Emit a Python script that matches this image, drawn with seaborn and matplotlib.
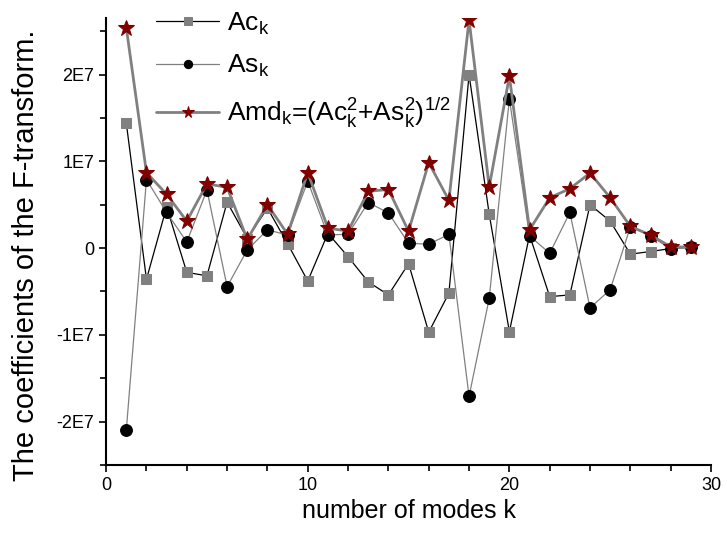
import matplotlib
matplotlib.use('Agg')
import matplotlib.pyplot as plt
import matplotlib.ticker as mticker
import seaborn as sns

# Data (values in units of 1E7)
SCALE = 1e7
k = list(range(1, 30))
ac = [1.44, -0.36, 0.475, -0.28, -0.32, 0.53, 0.11, 0.46, 0.05, -0.38,
      0.17, -0.10, -0.39, -0.54, -0.18, -0.97, -0.52, 2.00, 0.39, -0.965,
      0.15, -0.56, -0.54, 0.50, 0.31, -0.07, -0.04, -0.005, 0.01]
as_ = [-2.10, 0.79, 0.41, 0.07, 0.67, -0.445, -0.02, 0.21, 0.15, 0.77,
       0.15, 0.16, 0.525, 0.405, 0.055, 0.045, 0.157, -1.71, -0.58, 1.72,
       0.14, -0.06, 0.41, -0.69, -0.48, 0.245, 0.14, -0.01, 0.01]
amd = [2.54, 0.87, 0.62, 0.31, 0.74, 0.70, 0.10, 0.50, 0.16, 0.87,
       0.23, 0.195, 0.655, 0.675, 0.195, 0.985, 0.55, 2.63, 0.705, 1.98,
       0.21, 0.58, 0.685, 0.865, 0.58, 0.25, 0.15, 0.015, 0.01]

ac = [v * SCALE for v in ac]
as_ = [v * SCALE for v in as_]
amd = [v * SCALE for v in amd]

sns.set_style('ticks')
plt.rcParams['font.family'] = ['Liberation Sans', 'DejaVu Sans']
plt.rcParams['mathtext.default'] = 'regular'
for key in ['text.color', 'axes.labelcolor', 'xtick.color', 'ytick.color', 'axes.edgecolor']:
    plt.rcParams[key] = 'black'

fig = plt.figure(figsize=(7.27, 5.35), dpi=100)
ax = fig.add_axes([0.146, 0.131, 0.832, 0.835])

grey = '#808080'
sns.lineplot(x=k, y=ac, ax=ax, color='black', linewidth=0.9, marker='s',
             markersize=7.5, markerfacecolor=grey, markeredgecolor=grey,
             label=r'Ac$_k$')
sns.lineplot(x=k, y=as_, ax=ax, color=grey, linewidth=0.9, marker='o',
             markersize=8.5, markerfacecolor='black', markeredgecolor='black',
             label=r'As$_k$')
sns.lineplot(x=k, y=amd, ax=ax, color=grey, linewidth=2, marker='*',
             markersize=12, markerfacecolor='#800000', markeredgecolor='#800000',
             label=r'Amd$_k$=(Ac$_k^2$+As$_k^2$)$^{1/2}$')

ax.set_xlim(0, 30)
ax.set_ylim(-2.5e7, 2.65e7)
ax.xaxis.set_major_locator(mticker.MultipleLocator(10))
ax.xaxis.set_minor_locator(mticker.MultipleLocator(2))
ax.yaxis.set_major_locator(mticker.MultipleLocator(1e7))
ax.yaxis.set_minor_locator(mticker.MultipleLocator(5e6))
ax.yaxis.set_major_formatter(mticker.FuncFormatter(
    lambda v, p: '0' if abs(v) < 1 else f'{int(round(v / 1e7))}E7'))

ax.tick_params(which='major', length=5, width=1.2, labelsize=13, direction='out')
ax.tick_params(which='minor', length=4, width=1.2, direction='out')
for s in ['left', 'bottom']:
    ax.spines[s].set_linewidth(1.5)
sns.despine(ax=ax)

ax.set_xlabel('number of modes k', fontsize=18)
ax.set_ylabel('The coefficients of the F-transform.', fontsize=21)
ax.yaxis.set_label_coords(-0.11, 0.47)

ax.legend(loc='upper left', bbox_to_anchor=(0.043, 1.07), frameon=False,
          fontsize=19, handlelength=2.4, handletextpad=0.3, labelspacing=0.62,
          markerscale=0.7)

fig.savefig('out.png', dpi=100)
